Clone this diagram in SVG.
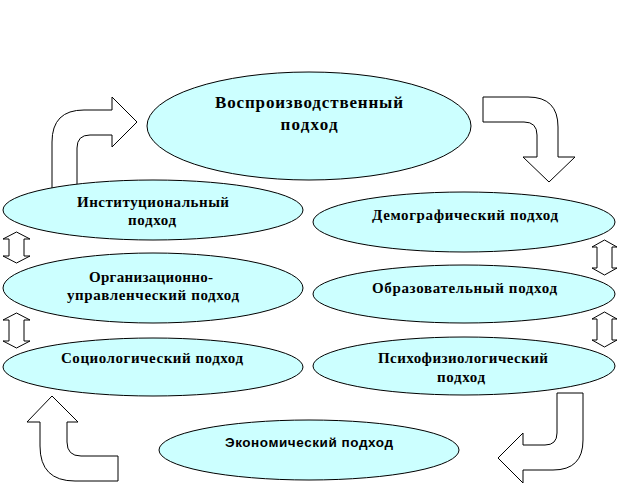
<svg xmlns="http://www.w3.org/2000/svg" width="621" height="504" viewBox="0 0 621 504">
<style>
.n{fill:#CCFFFF;stroke:#000;stroke-width:1}
.a{fill:#fff;stroke:#000;stroke-width:1;stroke-linejoin:miter}
.t{font-family:"Liberation Serif","Times New Roman",serif;font-weight:bold;font-size:15px;fill:#000;text-anchor:middle}
.big{font-size:17px}
.s{font-family:"Liberation Sans",Arial,sans-serif;font-size:13.5px}
</style>
<rect width="621" height="504" fill="#fff"/>
<g id="connectors">
<path class="a" d="M52,200 L52,142 Q52,110 84,110 L112,110 L112,97 L137,122 L112,147 L112,135 L90,135 Q77,135 77,148 L77,200 Z"/>
<path class="a" d="M483,97 L528,97 Q558,97 558,127 L558,157 L575,157 L549,182 L523,157 L537,157 L537,135 Q537,122 524,122 L483,122 Z"/>
<path class="a" d="M557,393 L583,393 L583,440 Q583,470 553,470 L523,470 L523,483 L498,458 L523,433 L523,445 L545,445 Q557,445 557,433 Z"/>
<path class="a" d="M52,396 L78,422 L67,422 L67,442 Q67,456 81,456 L118,456 L118,481 L75,481 Q40,481 40,446 L40,422 L27,422 Z"/>
<path class="a" d="M16.5,232 L30,239 L24,239 L24,256 L30,256 L16.5,263 L3,256 L9,256 L9,239 L3,239 Z"/>
<path class="a" d="M16.5,313 L30,320 L24,320 L24,341 L30,341 L16.5,348 L3,341 L9,341 L9,320 L3,320 Z"/>
<path class="a" d="M604.5,240 L617,247 L612,247 L612,268 L617,268 L604.5,275 L592,268 L597,268 L597,247 L592,247 Z"/>
<path class="a" d="M604.5,312 L617,319 L612,319 L612,340 L617,340 L604.5,347 L592,340 L597,340 L597,319 L592,319 Z"/>
</g>
<g id="n-reproduction">
<ellipse class="n" cx="309" cy="126" rx="162" ry="54"/>
<text class="t big" x="309" y="108" textLength="188" lengthAdjust="spacing">Воспроизводственный</text>
<text class="t big" x="309" y="130" textLength="57" lengthAdjust="spacing">подход</text>
</g>
<g id="n-institutional">
<ellipse class="n" cx="153" cy="210" rx="150" ry="30"/>
<text class="t" x="153" y="207" textLength="152" lengthAdjust="spacing">Институциональный</text>
<text class="t" x="152" y="225" textLength="48" lengthAdjust="spacing">подход</text>
</g>
<g id="n-demographic">
<ellipse class="n" cx="464" cy="222" rx="151" ry="30"/>
<text class="t" x="465" y="220" textLength="186" lengthAdjust="spacing">Демографический подход</text>
</g>
<g id="n-organizational">
<ellipse class="n" cx="153" cy="288" rx="150" ry="35"/>
<text class="t" x="151" y="282" textLength="124" lengthAdjust="spacing">Организационно-</text>
<text class="t" x="153" y="300" textLength="172" lengthAdjust="spacing">управленческий подход</text>
</g>
<g id="n-educational">
<ellipse class="n" cx="464" cy="294" rx="151" ry="29"/>
<text class="t" x="464.5" y="293" textLength="185" lengthAdjust="spacing">Образовательный подход</text>
</g>
<g id="n-sociological">
<ellipse class="n" cx="153" cy="367" rx="150" ry="29"/>
<text class="t" x="152" y="363" textLength="182" lengthAdjust="spacing">Социологический подход</text>
</g>
<g id="n-psychophysiological">
<ellipse class="n" cx="464" cy="366" rx="151" ry="29"/>
<text class="t" x="463" y="363" textLength="170" lengthAdjust="spacing">Психофизиологический</text>
<text class="t" x="461" y="382" textLength="48" lengthAdjust="spacing">подход</text>
</g>
<g id="n-economic">
<ellipse class="n" cx="309" cy="450" rx="150" ry="30"/>
<text class="t s" x="309" y="447" textLength="168" lengthAdjust="spacing">Экономический подход</text>
</g>
</svg>
